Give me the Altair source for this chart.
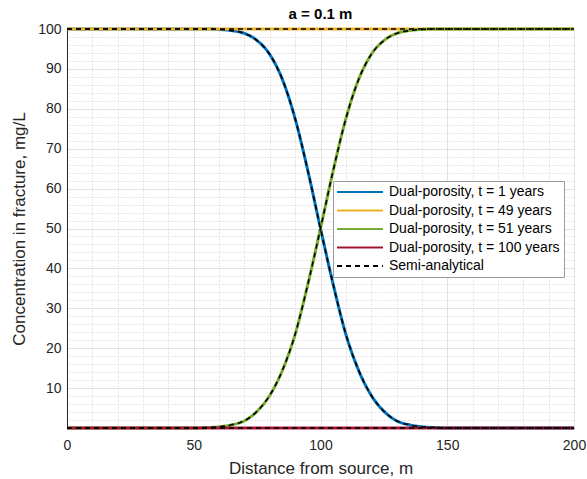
import altair as alt
import pandas as pd

# ---- data ----
x_vals = list(range(0, 201, 5))

blue_t1 = [100, 100, 100, 100, 100, 100, 100, 100, 100, 100, 100, 100,
           99.9, 99.6, 98.9, 97.1, 93.6, 87.3, 77.5, 64.5, 50.0,
           36.0, 23.5, 14.5, 8.2, 4.2, 1.8, 0.8, 0.3, 0.1,
           0, 0, 0, 0, 0, 0, 0, 0, 0, 0, 0]
yellow_t49 = [100] * 41
green_t51 = [0, 0, 0, 0, 0, 0, 0, 0, 0, 0, 0,
             0.1, 0.3, 0.8, 1.8, 4.2, 8.2, 14.5, 23.5, 36.0, 50.0,
             64.5, 77.5, 87.3, 93.6, 97.1, 98.9, 99.6, 99.9,
             100, 100, 100, 100, 100, 100, 100, 100, 100, 100, 100, 100]
red_t100 = [0] * 41

series_names = [
    "Dual-porosity, t = 1 years",
    "Dual-porosity, t = 49 years",
    "Dual-porosity, t = 51 years",
    "Dual-porosity, t = 100 years",
    "Semi-analytical",
]
series_colors = ["#0072BD", "#EDB120", "#77AC30", "#A2142F", "#000000"]
series_dashes = [[1, 0], [1, 0], [1, 0], [1, 0], [5, 4]]

x_minor = list(range(0, 201, 10))
y_minor = list(range(0, 101, 2))
x_major = [0, 50, 100, 150, 200]
y_major = [10, 20, 30, 40, 50, 60, 70, 80, 90, 100]

# ---- build long table ----
rows = []
all_vals = [blue_t1, yellow_t49, green_t51, red_t100]
for name, vals in zip(series_names[:4], all_vals):
    for x, y in zip(x_vals, vals):
        rows.append({"x": x, "y": y, "series": name, "curve": name})
for name, vals in zip(series_names[:4], all_vals):
    for x, y in zip(x_vals, vals):
        rows.append({"x": x, "y": y, "series": series_names[4], "curve": "semi " + name})
df = pd.DataFrame(rows)

FONT = "Liberation Sans"
xs = alt.Scale(domain=[0, 200], nice=False, zero=False)
ys = alt.Scale(domain=[0, 100], nice=False, zero=False)

legend = alt.Legend(
    orient="none", legendX=266, legendY=152, fillColor="#ffffff", strokeColor="#9a9a9a",
    padding=4, labelFontSize=14, labelFont=FONT, labelColor="#000000",
    symbolType="M-4,0L4,0", symbolSize=132, symbolStrokeWidth=2,
    symbolOffset=16, labelOffset=22,
    rowPadding=4.5, labelLimit=300, cornerRadius=0)

color_enc = alt.Color("series:N", title=None, legend=legend,
                      scale=alt.Scale(domain=series_names, range=series_colors))
dash_enc = alt.StrokeDash("series:N", title=None, legend=legend,
                          scale=alt.Scale(domain=series_names, range=series_dashes))

x_main = alt.X("x:Q", scale=xs, axis=alt.Axis(
    orient="bottom", values=x_major, grid=True, gridColor="#e2e2e2", gridWidth=1,
    ticks=False, labelPadding=10, labelFlush=False, labelFontSize=14, labelFont=FONT,
    labelColor="#262626", domainColor="#262626", title="Distance from source, m",
    titleFont=FONT, titleFontSize=17, titleFontWeight="normal", titleColor="#262626",
    titlePadding=8))
y_main = alt.Y("y:Q", scale=ys, axis=alt.Axis(
    orient="left", values=y_major, grid=True, gridColor="#e2e2e2", gridWidth=1,
    ticks=False, labelPadding=6, labelFlush=False, labelFontSize=14, labelFont=FONT,
    labelColor="#262626", domainColor="#262626", title="Concentration in fracture, mg/L",
    titleFont=FONT, titleFontSize=17, titleFontWeight="normal", titleColor="#262626",
    titlePadding=9))

grid = alt.Chart(df[df["curve"] == series_names[1]]).mark_line(opacity=0).encode(
    x=alt.X("x:Q", scale=xs, axis=alt.Axis(
        orient="top", values=x_minor, grid=True, gridDash=[1, 2], gridColor="#cfcfcf",
        labels=False, ticks=False, domain=False, title=None)),
    y=alt.Y("y:Q", scale=ys, axis=alt.Axis(
        orient="right", values=y_minor, grid=True, gridDash=[1, 2], gridColor="#cfcfcf",
        labels=False, ticks=False, domain=False, title=None)),
)

layers = []
for name in series_names[:4]:
    layers.append(
        alt.Chart(df).transform_filter(alt.datum.curve == name)
        .mark_line(strokeWidth=3, interpolate="monotone", clip=False)
        .encode(x=x_main, y=y_main, color=color_enc, strokeDash=dash_enc)
    )
layers.append(
    alt.Chart(df).transform_filter(alt.datum.series == series_names[4])
    .mark_line(strokeWidth=1.6, interpolate="monotone", clip=False)
    .encode(x=x_main, y=y_main, color=color_enc, strokeDash=dash_enc, detail="curve:N")
)

lines = alt.layer(*layers)

chart = alt.layer(grid, lines).resolve_axis(x="independent", y="independent").properties(
    width=507, height=399,
    padding={"left": 67, "top": 29, "right": 13, "bottom": 51},
    autosize=alt.AutoSizeParams(type="none"),
    title=alt.TitleParams("a = 0.1 m", font=FONT, fontSize=15, fontWeight="bold",
                          color="#000000", anchor="middle", offset=0),
).configure_view(stroke="#262626", strokeWidth=1).configure(background="#ffffff")

chart.save("out.html", embed_options={"renderer": "svg", "actions": False})
